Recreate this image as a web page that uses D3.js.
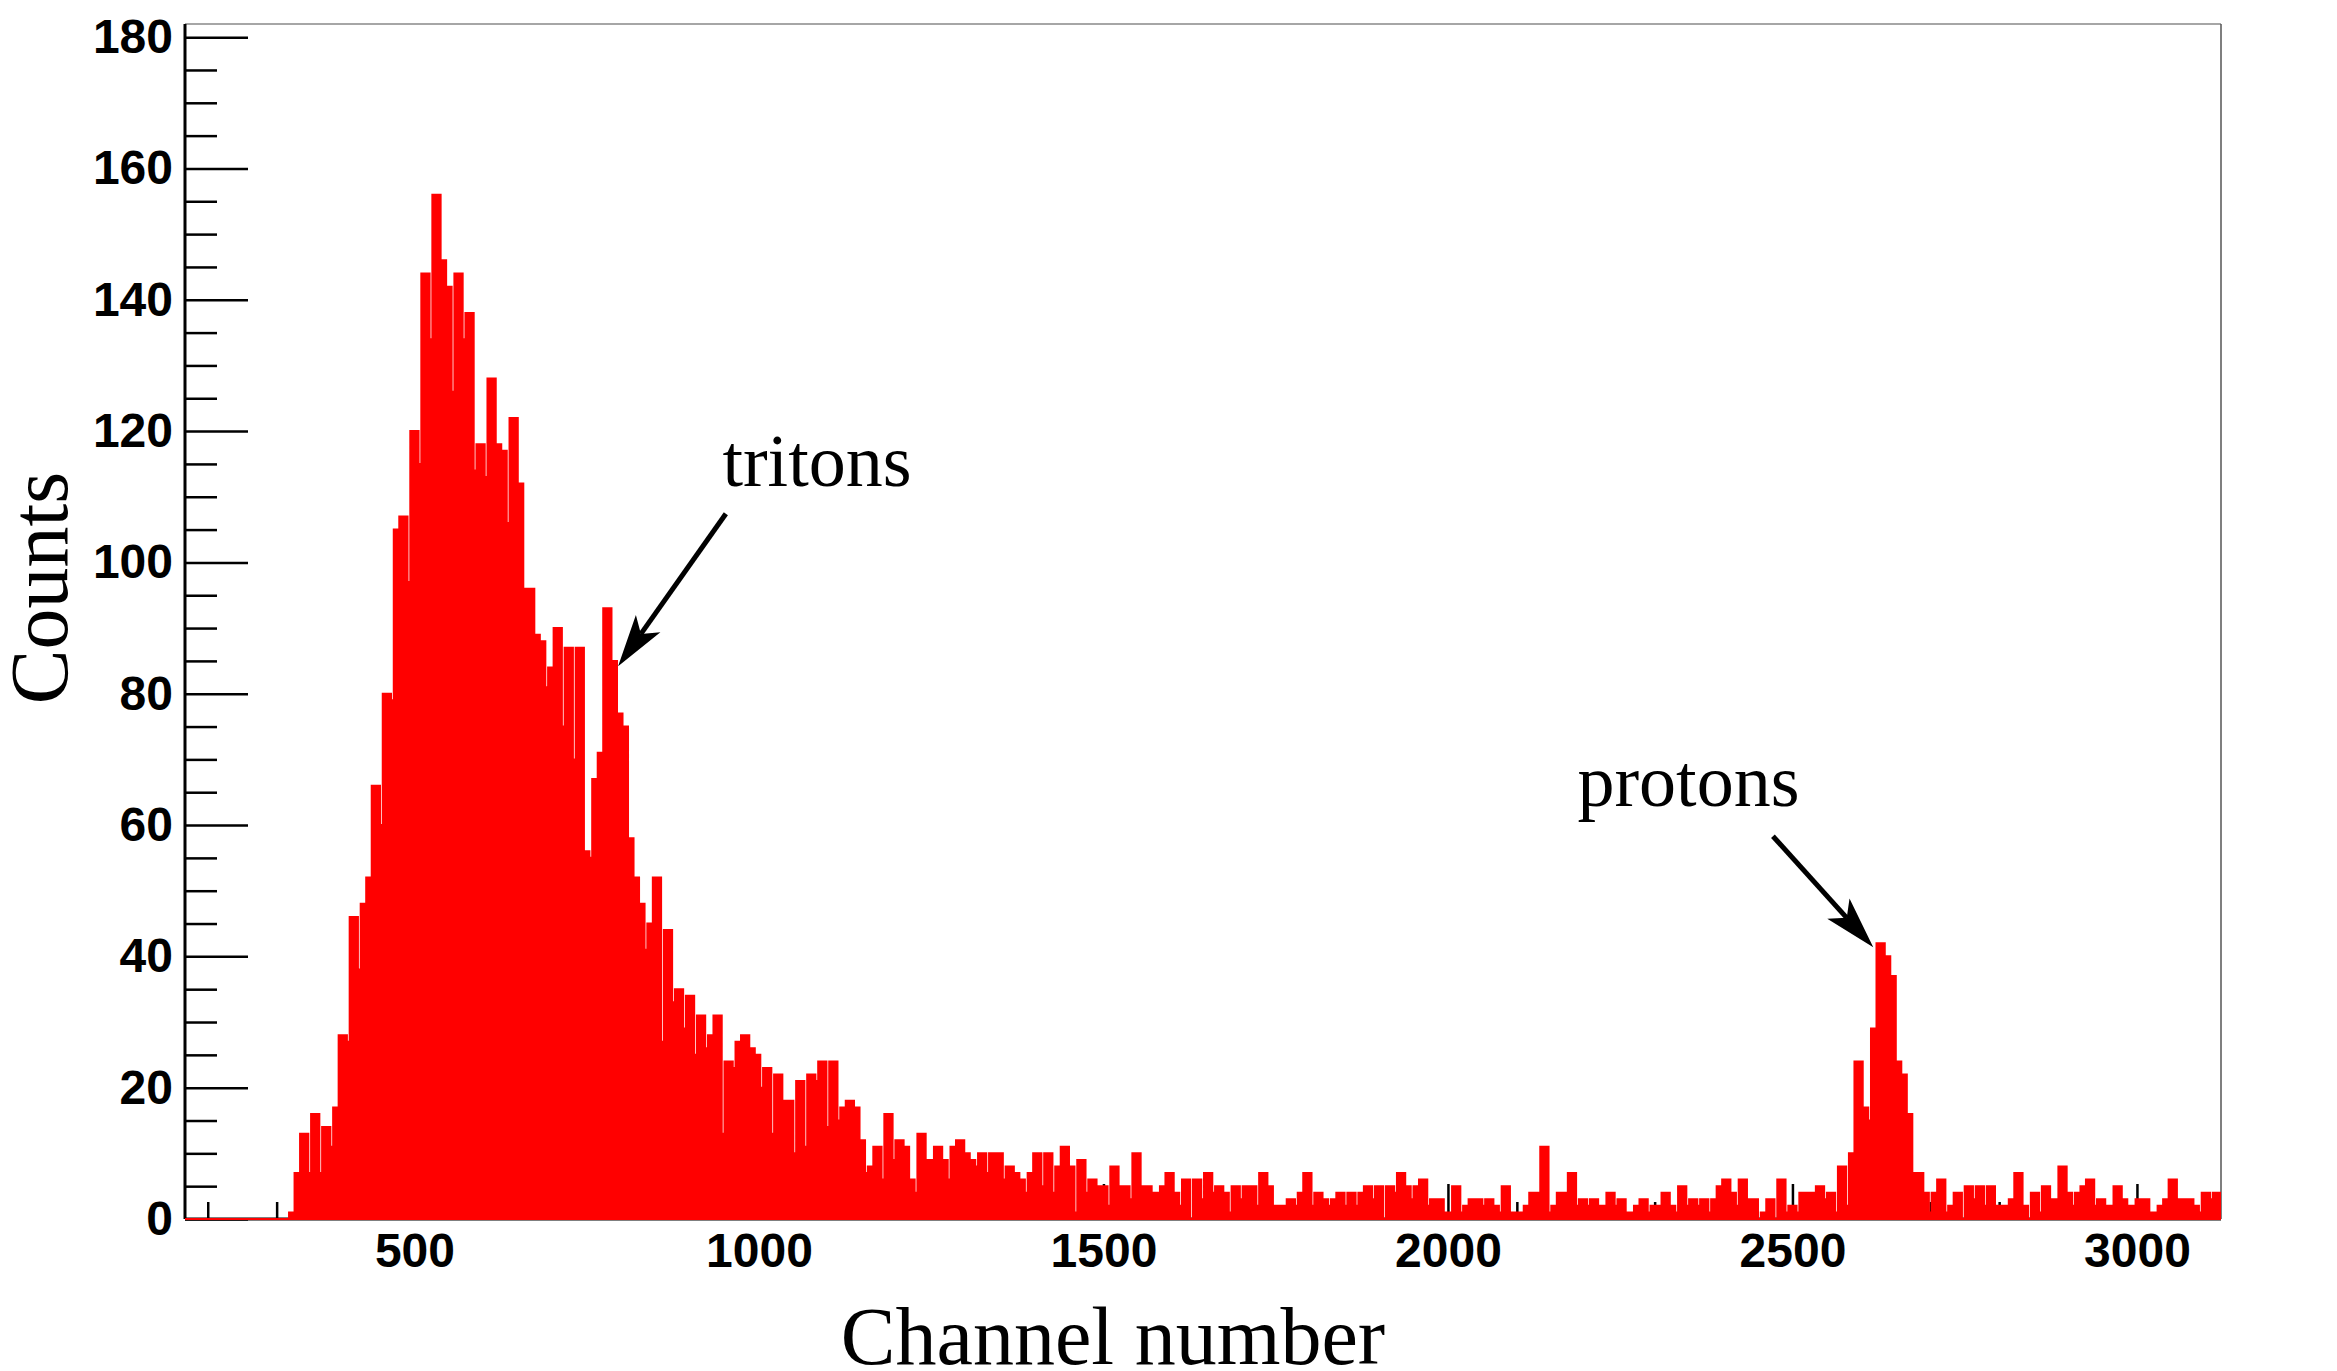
<!DOCTYPE html>
<html>
<head>
<meta charset="utf-8">
<script src="https://cdn.jsdelivr.net/npm/d3@7"></script>
<style>
  body { margin: 0; background: #fff; }
</style>
</head>
<body>
<script>
// histogram: 4-channel bins starting at channel 318
var binStart = 318, binWidth = 4;

var countsRise = [
  1,1,7,7,13,13,13,7,16,16,
  16,7,14,14,14,11,17,17,28,28,
  28,27,46,46,46,38,48,48,52,52,
  66,66,66,60,80,80,80,79,105,105,
  107,107,107,97,120,120,120,115,144,144,
  144,134,156,156,156,146,146,142,142,126,
  144,144,144,134,138,138,138,114,118,118,
  118,113,128,128,128,118,118,117,117,106,
  122,122,122,112,112,96,96,96,96,89,
  89,88,88,81,84,84,90,90,90,75];

var countsTritons = [
  87,87,87,70,87,87,87,56,56,55,
  67,67,71,71,93,93,93,85,85,77,
  77,75,75,58,58,52,52,48,48,41,
  45,45,52,52,52,27,44,44,44,33,
  35,35,35,29,34,34,34,25,31,31,
  31,26,28,28,31,31,31,13,24,24,
  24,23,27,27,28,28,28,26,26,25,
  25,20,23,23,23,13,22,22,22,18,
  18,18,18,10,21,21,21,11,22,22,
  22,21,24,24,24,14,24,24,24,15];

var countsTail = [
  17,17,18,18,18,17,17,12,12,7,
  8,8,11,11,11,6,16,16,16,9,
  12,12,12,11,11,6,6,4,13,13,
  13,9,9,9,11,11,11,9,9,6,
  11,11,12,12,12,10,10,9,9,8,
  10,10,10,7,10,10,10,10,10,6,
  8,8,8,7,7,6,6,4,7,7,
  10,10,10,5,10,10,10,4,8,8,
  11,11,11,8,8,1,9,9,9,4,
  6,6,6,5,5,5,5,2,8,8,
  8,5,5,5,5,3,10,10,10,5,
  5,5,5,4,4,4,5,5,7,7,
  7,4,4,2,6,6,6,0,6,6,
  6,3,7,7,7,4,5,5,5,4,
  4,1,5,5,5,3,5,5,5,5,
  5,2,7,7,7,5,5,2,2,2,
  2,2,3,3,3,2,4,4,7,7,
  7,2,4,4,4,3,3,2,3,3,
  4,4,4,2,4,4,4,2,4,4,
  5,5,5,3,5,5,5,0,5,5];

var countsFlat = [
  5,4,7,7,7,5,5,3,5,5,
  6,6,6,2,3,3,3,3,3,1,
  1,1,5,5,5,1,2,2,3,3,
  3,3,3,2,3,3,3,2,2,1,
  5,5,5,1,1,1,1,1,2,2,
  4,4,4,4,11,11,11,1,2,2,
  4,4,4,4,7,7,7,2,3,3,
  3,2,3,3,3,2,2,2,4,4,
  4,2,3,3,3,1,1,1,2,2,
  3,3,3,1,2,2,2,2,4,4,
  4,2,2,1,5,5,5,2,3,3,
  3,2,3,3,3,1,3,3,5,5,
  6,6,6,4,4,2,6,6,6,3,
  3,3,3,0,1,1,3,3,3,0,
  6,6,6,1,2,2,2,1,4,4];

var countsProtons = [
  4,4,4,4,5,5,5,3,4,4,
  4,1,8,8,8,2,10,10,24,24,
  24,17,17,15,29,29,42,42,42,40,
  40,37,37,24,24,22,22,16,16,7,
  7,7,7,4,4,1,4,4,6,6,
  6,1,2,2,4,4,4,0,5,5,
  5,3,5,5,5,2,5,5,5,2,
  2,2,2,2,3,3,7,7,7,2,
  2,0,4,4,4,1,5,5,5,3,
  3,3,8,8,8,4,4,2,4,4,
  5,5,6,6,6,2,3,3,3,2,
  2,2,5,5,5,3,3,2,2,2,
  3,3,3,3,3,1,1,1,2,2,
  3,3,6,6,6,3,3,3,3,3,
  3,2,2,1,4,4,4,3,4,4,
  4];

var xTicks = [500, 1000, 1500, 2000, 2500, 3000];
var yTicks = [0, 20, 40, 60, 80, 100, 120, 140, 160, 180];

// labels with arrows, anchored in (channel, counts)
var notes = [
  {label: "tritons", tx: 947, ty: 111.6, from: [952, 107.4], to: [795.6, 84.2]},
  {label: "protons", tx: 2188, ty: 62.9, from: [2471.7, 58.3], to: [2617.3, 41.4]}
];

var W = 2337, H = 1371;
var margin = {top: 24, right: 116, bottom: 152, left: 185},
    width = W - margin.left - margin.right,
    height = H - margin.top - margin.bottom;

var counts = countsRise.concat(countsTritons, countsTail, countsFlat, countsProtons);
var bins = counts.map((c, i) => ({lo: binStart + i * binWidth, c: c}));

var x = d3.scaleLinear().domain([167, 3122]).range([0, width]);
var y = d3.scaleLinear().domain([0, 182]).range([height, 0]);

var svg = d3.select("body").append("svg")
    .attr("width", W)
    .attr("height", H)
    .style("display", "block");

svg.append("rect").attr("width", W).attr("height", H).attr("fill", "#fff");

var g = svg.append("g")
    .attr("transform", `translate(${margin.left},${margin.top})`);

g.append("defs").append("clipPath").attr("id", "plot")
  .append("rect").attr("x", 0).attr("y", -2).attr("width", width).attr("height", height + 4);

// frame top/right
g.append("line").attr("x1", 0).attr("x2", width).attr("y1", 0).attr("y2", 0)
    .attr("stroke", "#888").attr("stroke-width", 1.5);
g.append("line").attr("x1", width).attr("x2", width).attr("y1", 0).attr("y2", height)
    .attr("stroke", "#555").attr("stroke-width", 1.5);

var tickFont = "'Liberation Sans', Arial, Helvetica, sans-serif";

// x axis ticks (pointing inward)
var minorX = d3.range(200, 3101, 100).filter(v => v % 500 != 0);
g.append("g").attr("transform", `translate(0,${height})`)
    .call(d3.axisBottom(x).tickValues(minorX).tickSize(-17).tickFormat(""))
    .call(a => a.select(".domain").remove());
var xAxis = g.append("g").attr("transform", `translate(0,${height})`)
    .call(d3.axisBottom(x).tickValues(xTicks).tickSize(-35).tickPadding(14).tickFormat(d3.format("d")));
xAxis.select(".domain").remove();
xAxis.selectAll("text")
    .attr("font-family", tickFont).attr("font-weight", "bold").attr("font-size", 48).attr("fill", "#000");

// y axis ticks
var minorY = d3.range(5, 181, 5).filter(v => v % 20 != 0);
g.append("g")
    .call(d3.axisLeft(y).tickValues(minorY).tickSize(-32).tickFormat(""))
    .call(a => a.select(".domain").remove());
var yAxis = g.append("g")
    .call(d3.axisLeft(y).tickValues(yTicks).tickSize(-63).tickPadding(12).tickFormat(d3.format("d")));
yAxis.select(".domain").remove();
yAxis.selectAll("text")
    .attr("font-family", tickFont).attr("font-weight", "bold").attr("font-size", 48).attr("fill", "#000");

g.selectAll(".tick line").attr("stroke", "#000").attr("stroke-width", 2.5);

// axis lines
g.append("line").attr("x1", 0).attr("x2", 0).attr("y1", 0).attr("y2", height)
    .attr("stroke", "#000").attr("stroke-width", 3);
g.append("line").attr("x1", 0).attr("x2", width).attr("y1", height).attr("y2", height)
    .attr("stroke", "#000").attr("stroke-width", 3);

// histogram as a step area
var last = bins[bins.length - 1];
var steps = [{lo: x.domain()[0], c: 0}].concat(bins, [{lo: last.lo + binWidth, c: last.c}]);
var area = d3.area()
    .x(d => x(d.lo))
    .y0(y(0))
    .y1(d => y(d.c))
    .curve(d3.curveStepAfter);

g.append("path")
    .datum(steps)
    .attr("clip-path", "url(#plot)")
    .attr("d", area)
    .attr("fill", "#ff0000")
    .attr("stroke", "#ff0000")
    .attr("stroke-width", 2);

// annotations
var serif = "'Liberation Serif', 'Times New Roman', Times, serif";
notes.forEach(n => {
    g.append("text")
        .attr("x", x(n.tx)).attr("y", y(n.ty))
        .attr("font-family", serif).attr("font-size", 74).attr("fill", "#000")
        .text(n.label);

    var x0 = x(n.from[0]), y0 = y(n.from[1]), x1 = x(n.to[0]), y1 = y(n.to[1]);
    var dx = x1 - x0, dy = y1 - y0, len = Math.sqrt(dx * dx + dy * dy);
    var ux = dx / len, uy = dy / len, px = -uy, py = ux;
    var L = 52, hw = 15;
    var bx = x1 - ux * L, by = y1 - uy * L;
    var nx = x1 - ux * L * 0.76, ny = y1 - uy * L * 0.76;

    g.append("line")
        .attr("x1", x0).attr("y1", y0).attr("x2", nx).attr("y2", ny)
        .attr("stroke", "#000").attr("stroke-width", 5);
    g.append("path")
        .attr("d", `M${x1},${y1}L${bx + px * hw},${by + py * hw}L${nx},${ny}L${bx - px * hw},${by - py * hw}Z`)
        .attr("fill", "#000");
});

// axis titles
svg.append("text")
    .attr("x", 1113).attr("y", 1364)
    .attr("text-anchor", "middle")
    .attr("font-family", serif).attr("font-size", 82).attr("fill", "#000")
    .text("Channel number");

svg.append("text")
    .attr("transform", "translate(67,588) rotate(-90)")
    .attr("text-anchor", "middle")
    .attr("font-family", serif).attr("font-size", 82).attr("fill", "#000")
    .text("Counts");
</script>
</body>
</html>
